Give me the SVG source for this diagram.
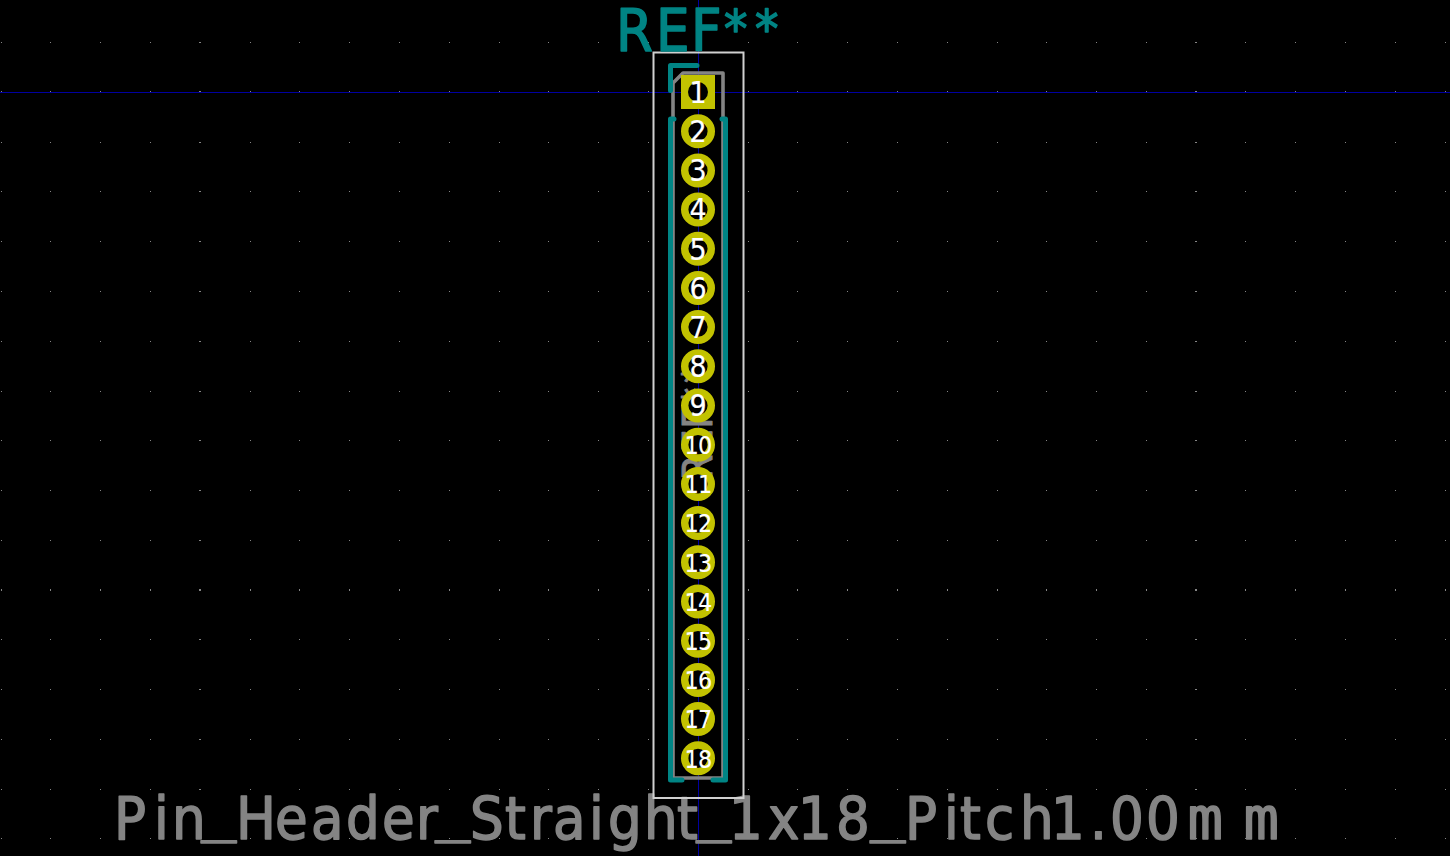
<svg xmlns="http://www.w3.org/2000/svg" width="1450" height="856" viewBox="0 0 1450 856">
<style>
text{font-family:"DejaVu Sans","Liberation Sans",sans-serif;stroke-linejoin:round}
.bg{fill:#000}
.dot{fill:#868686}
.axis{stroke:#0000a0;stroke-width:1;fill:none}
.fab{stroke:#848484;stroke-width:3.6;fill:none;stroke-linejoin:round;stroke-linecap:round}
.crt{stroke:#d0d0d0;stroke-width:2;fill:none}
.silk{stroke:#008484;stroke-width:5;fill:none;stroke-linecap:round;stroke-linejoin:round}
.ring{fill:#000;stroke:#c2c200;stroke-width:7.4}
.sq{fill:#c2c200}
.hole{fill:#000}
.t1,.t2{fill:#fff;stroke:#fff;text-anchor:middle;font-family:"DejaVu Sans Condensed","DejaVu Sans",sans-serif;font-stretch:condensed}
.t1{font-size:30px;stroke-width:.2}
.t2{font-size:25px;stroke-width:.1;letter-spacing:-.8px}
.big,.ref,.fabref{font-family:"DejaVu Sans Condensed","DejaVu Sans",sans-serif;font-stretch:condensed}
.big{font-size:59px;fill:#848484;stroke:#848484;stroke-width:1.5}
.ref{font-size:59px;fill:#008484;stroke:#008484;stroke-width:1.5}
.fabref{font-size:40.5px;fill:#848484;stroke:#848484;stroke-width:1}
.m{font-family:"DejaVu Sans Mono",monospace;font-stretch:normal}
.st{font-size:52px}
</style>
<defs>
<g id="c"><rect class="dot" x="0" y="42" width="1" height="1"/><rect class="dot" x="0" y="91" width="1" height="2"/><rect class="dot" x="0" y="142" width="1" height="1"/><rect class="dot" x="0" y="191" width="1" height="1"/><rect class="dot" x="0" y="241" width="1" height="1"/><rect class="dot" x="0" y="291" width="1" height="1"/><rect class="dot" x="0" y="341" width="1" height="1"/><rect class="dot" x="0" y="391" width="1" height="1"/><rect class="dot" x="0" y="440" width="1" height="1"/><rect class="dot" x="0" y="490" width="1" height="1"/><rect class="dot" x="0" y="540" width="1" height="1"/><rect class="dot" x="0" y="589" width="1" height="2"/><rect class="dot" x="0" y="639" width="1" height="1"/><rect class="dot" x="0" y="689" width="1" height="1"/><rect class="dot" x="0" y="739" width="1" height="1"/><rect class="dot" x="0" y="789" width="1" height="1"/><rect class="dot" x="0" y="838" width="1" height="1"/></g>
</defs>
<rect class="bg" x="0" y="0" width="1450" height="856"/>
<g id="grid">
<use href="#c" x="1"/><use href="#c" x="50"/><use href="#c" x="100"/><use href="#c" x="150"/><use href="#c" x="199"/><use href="#c" x="200"/><use href="#c" x="250"/><use href="#c" x="299"/><use href="#c" x="349"/><use href="#c" x="399"/><use href="#c" x="449"/><use href="#c" x="499"/><use href="#c" x="548"/><use href="#c" x="598"/><use href="#c" x="648"/><use href="#c" x="748"/><use href="#c" x="797"/><use href="#c" x="847"/><use href="#c" x="897"/><use href="#c" x="947"/><use href="#c" x="997"/><use href="#c" x="1046"/><use href="#c" x="1096"/><use href="#c" x="1146"/><use href="#c" x="1195"/><use href="#c" x="1196"/><use href="#c" x="1245"/><use href="#c" x="1295"/><use href="#c" x="1345"/><use href="#c" x="1395"/><use href="#c" x="1445"/>
</g>
<g id="axes"><path class="axis" d="M0 92.5H1450M698.5 0V856"/></g>
<g id="fab-layer">
<path class="fab" d="M683 73H723V778H673V83Z"/>
<text class="fabref" transform="translate(712,480) rotate(-90)" x="0 27.5 51.5 74 97">REF**</text>
</g>
<text id="value" class="big" y="839" x="114 154 172 201 236 275 311 346 382 416 435 470 505 530 553 589 608 644 677 696 729 768 798 836 870 905 944 960 985 1020 1051 1090 1110 1146 1187.5 1243.5">Pin<tspan class="m" y="829">_</tspan><tspan y="839">Header</tspan><tspan class="m" y="829">_</tspan><tspan y="839">Straight</tspan><tspan class="m" y="829">_</tspan><tspan y="839">1x18</tspan><tspan class="m" y="829">_</tspan><tspan y="839">Pitch1.00</tspan><tspan class="m">mm</tspan></text>
<g id="courtyard"><rect class="crt" x="653.5" y="52.5" width="90" height="745.5"/></g>
<g id="silk">
<path class="silk" d="M697 65.5H670.5V90.5"/>
<path class="silk" d="M674 119H670.5V780H682"/>
<path class="silk" d="M722 119H725.5V780H713"/>
</g>
<text id="reference" class="ref" y="51" x="616 656 691 724 755">REF<tspan class="st" y="47">**</tspan></text>
<g id="pad-1"><rect class="sq" x="681" y="75" width="34" height="34"/><circle class="hole" cx="698" cy="92" r="10"/><text class="t1" x="698" y="102.5">1</text></g>
<g id="pad-2"><circle class="ring" cx="698" cy="131.2" r="13.3"/><text class="t1" x="698" y="142">2</text></g>
<g id="pad-3"><circle class="ring" cx="698" cy="170.4" r="13.3"/><text class="t1" x="698" y="181">3</text></g>
<g id="pad-4"><circle class="ring" cx="698" cy="209.6" r="13.3"/><text class="t1" x="698" y="220">4</text></g>
<g id="pad-5"><circle class="ring" cx="698" cy="248.8" r="13.3"/><text class="t1" x="698" y="259.5">5</text></g>
<g id="pad-6"><circle class="ring" cx="698" cy="288" r="13.3"/><text class="t1" x="698" y="298.5">6</text></g>
<g id="pad-7"><circle class="ring" cx="698" cy="327.1" r="13.3"/><text class="t1" x="698" y="338">7</text></g>
<g id="pad-8"><circle class="ring" cx="698" cy="366.3" r="13.3"/><text class="t1" x="698" y="377">8</text></g>
<g id="pad-9"><circle class="ring" cx="698" cy="405.5" r="13.3"/><text class="t1" x="698" y="416">9</text></g>
<g id="pad-10"><circle class="ring" cx="698" cy="444.7" r="13.3"/><text class="t2" x="698" y="454">10</text></g>
<g id="pad-11"><circle class="ring" cx="698" cy="483.9" r="13.3"/><text class="t2" x="698" y="493">11</text></g>
<g id="pad-12"><circle class="ring" cx="698" cy="523.1" r="13.3"/><text class="t2" x="698" y="532">12</text></g>
<g id="pad-13"><circle class="ring" cx="698" cy="562.3" r="13.3"/><text class="t2" x="698" y="571.5">13</text></g>
<g id="pad-14"><circle class="ring" cx="698" cy="601.5" r="13.3"/><text class="t2" x="698" y="610.5">14</text></g>
<g id="pad-15"><circle class="ring" cx="698" cy="640.7" r="13.3"/><text class="t2" x="698" y="650">15</text></g>
<g id="pad-16"><circle class="ring" cx="698" cy="679.9" r="13.3"/><text class="t2" x="698" y="689">16</text></g>
<g id="pad-17"><circle class="ring" cx="698" cy="719.1" r="13.3"/><text class="t2" x="698" y="728">17</text></g>
<g id="pad-18"><circle class="ring" cx="698" cy="758.3" r="13.3"/><text class="t2" x="698" y="767.5">18</text></g>
</svg>
